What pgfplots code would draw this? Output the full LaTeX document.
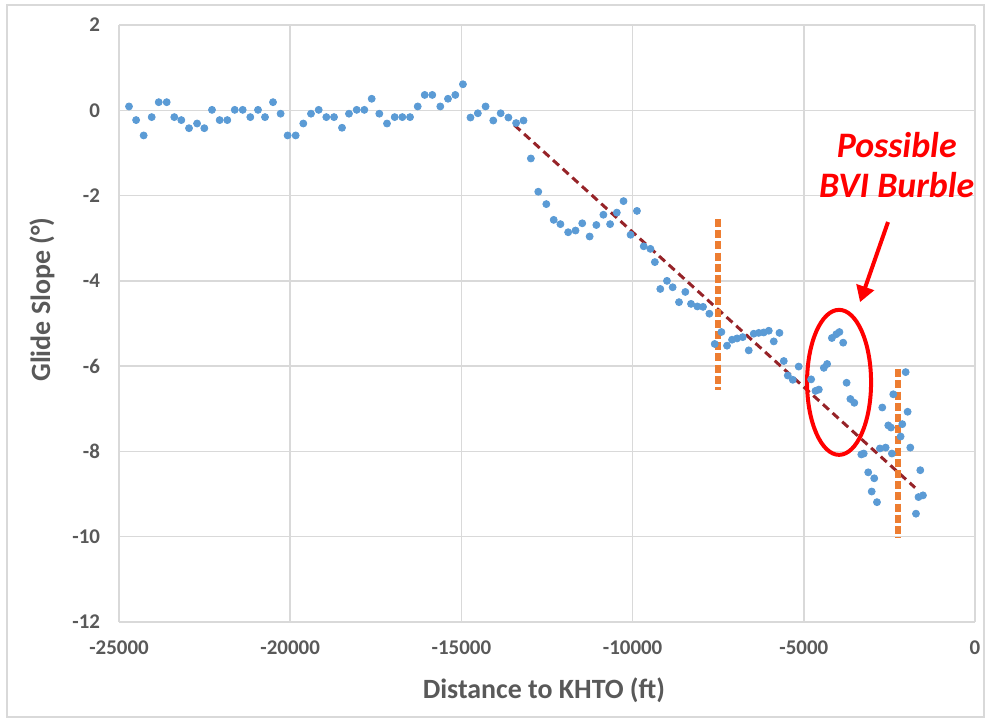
\documentclass[border=0pt]{standalone}
\usepackage{pgfplots}
\pgfplotsset{compat=1.18}
\usepackage{pgfplotstable}
\usepackage{fontspec}
\setmainfont{Carlito}
\usetikzlibrary{arrows.meta}

\definecolor{ptblue}{RGB}{91,155,213}
\definecolor{txtgray}{RGB}{89,89,89}
\definecolor{gridgray}{RGB}{217,217,217}
\definecolor{markorange}{RGB}{237,125,49}
\definecolor{trendred}{RGB}{150,35,40}

% glide slope samples: distance to KHTO (ft), glide slope (deg)
\pgfplotstableread{
x y
-24708 0.09
-24500 -0.23
-24280 -0.59
-24045 -0.16
-23840 0.19
-23607 0.19
-23385 -0.16
-23180 -0.23
-22955 -0.42
-22720 -0.31
-22508 -0.42
-22284 0.01
-22060 -0.23
-21837 -0.23
-21620 0.01
-21387 0.01
-21165 -0.16
-20940 0.01
-20736 -0.16
-20502 0.19
-20280 -0.08
-20075 -0.59
-19840 -0.59
-19617 -0.31
-19393 -0.08
-19168 0.01
-18945 -0.16
-18720 -0.16
-18487 -0.41
-18283 -0.08
-18058 0.01
-17835 0.01
-17620 0.27
-17397 -0.08
-17173 -0.31
-16948 -0.16
-16725 -0.16
-16500 -0.16
-16276 0.09
-16072 0.36
-15850 0.36
-15616 0.09
-15392 0.27
-15178 0.36
-14955 0.61
-14735 -0.17
-14520 -0.07
-14294 0.09
-14069 -0.24
-13853 -0.07
-13627 -0.17
-13402 -0.30
-13186 -0.24
-12971 -1.13
-12755 -1.91
-12520 -2.20
-12304 -2.57
-12108 -2.67
-11882 -2.86
-11667 -2.82
-11471 -2.65
-11255 -2.96
-11059 -2.69
-10853 -2.45
-10657 -2.67
-10461 -2.40
-10265 -2.13
-10059 -2.92
-9873 -2.36
-9676 -3.19
-9480 -3.25
-9350 -3.56
-9191 -4.19
-8996 -4.00
-8830 -4.15
-8645 -4.50
-8460 -4.26
-8294 -4.54
-8109 -4.60
-7943 -4.61
-7758 -4.77
-7602 -5.48
-7407 -5.20
-7242 -5.52
-7096 -5.38
-6949 -5.35
-6784 -5.32
-6608 -5.63
-6462 -5.24
-6316 -5.22
-6170 -5.21
-6023 -5.17
-5877 -5.42
-5711 -5.22
-5585 -5.88
-5468 -6.22
-5322 -6.32
-5150 -6.01
-4786 -6.31
-4659 -6.58
-4561 -6.55
-4415 -6.04
-4318 -5.95
-4180 -5.34
-4050 -5.25
-3960 -5.20
-3850 -5.45
-3750 -6.39
-3640 -6.77
-3525 -6.86
-3320 -8.07
-3250 -8.05
-3119 -8.49
-3017 -8.94
-2943 -8.63
-2863 -9.19
-2777 -7.93
-2708 -6.97
-2610 -7.91
-2533 -7.39
-2455 -7.44
-2427 -8.05
-2387 -6.66
-2173 -7.65
-2124 -7.36
-2025 -6.14
-1968 -7.07
-1890 -7.91
-1724 -9.46
-1650 -9.07
-1598 -8.44
-1520 -9.03
}\glide

\begin{document}
\begin{tikzpicture}
% page frame
\useasboundingbox (-59.5bp,-50bp) rectangle (435bp,311bp);
\draw[gridgray, line width=0.75bp] (-56bp,-47.5bp) rectangle (432.5bp,308.5bp);
\begin{axis}[
  at={(0,0)}, anchor=south west,
  scale only axis, width=428bp, height=298.5bp,
  xmin=-25000, xmax=0, ymin=-12, ymax=2,
  xtick={-25000,-20000,-15000,-10000,-5000,0},
  ytick={-12,-10,-8,-6,-4,-2,0,2},
  scaled x ticks=false,
  grid=major,
  grid style={gridgray, line width=0.75bp},
  axis line style={draw=none},
  major tick length=0pt,
  ticklabel style={font=\fontsize{10.5}{12}\selectfont\bfseries, text=txtgray},
  xticklabel style={yshift=-6bp},
  yticklabel style={xshift=-6bp},
  /pgf/number format/assume math mode=true,
  /pgf/number format/1000 sep={},
  clip=false,
]
\addplot[only marks, mark=*, mark size=1.75bp, color=ptblue, mark options={fill=ptblue, draw=ptblue}] table[x=x, y=y] {\glide};

% linear trend of the descent
\addplot[trendred, line width=1.5bp, dash pattern=on 4bp off 2.5bp] coordinates {(-13450,-0.35) (-1750,-8.85)};

% segment boundaries
\addplot[markorange, line width=3bp, dash pattern=on 4bp off 1.6bp] coordinates {(-7500,-2.55) (-7500,-6.55)};
\addplot[markorange, line width=3bp, dash pattern=on 4bp off 1.6bp] coordinates {(-2250,-6.07) (-2250,-10.04)};

% highlighted region and callout
\draw[red, line width=2bp] (axis cs:-3970,-6.38) ellipse [x radius=16bp, y radius=36.25bp];
\draw[red, line width=2bp, -{Triangle[length=8bp, width=9bp]}] (axis cs:-2541,-2.62) -- (axis cs:-3358,-4.50);
\node[red, font=\fontsize{18}{20}\selectfont\bfseries\itshape] at (axis cs:-2287,-0.81) {Possible};
\node[red, font=\fontsize{18}{20}\selectfont\bfseries\itshape] at (axis cs:-2287,-1.75) {BVI Burble};

% axis titles
\node[rotate=90, font=\fontsize{14}{16}\selectfont\bfseries, text=txtgray] at (axis cs:-27250,-4.44) {Glide Slope (°)};
\node[font=\fontsize{14}{16}\selectfont\bfseries, text=txtgray] at (axis cs:-12590,-13.6) {Distance to KHTO (ft)};
\end{axis}
\end{tikzpicture}
\end{document}
